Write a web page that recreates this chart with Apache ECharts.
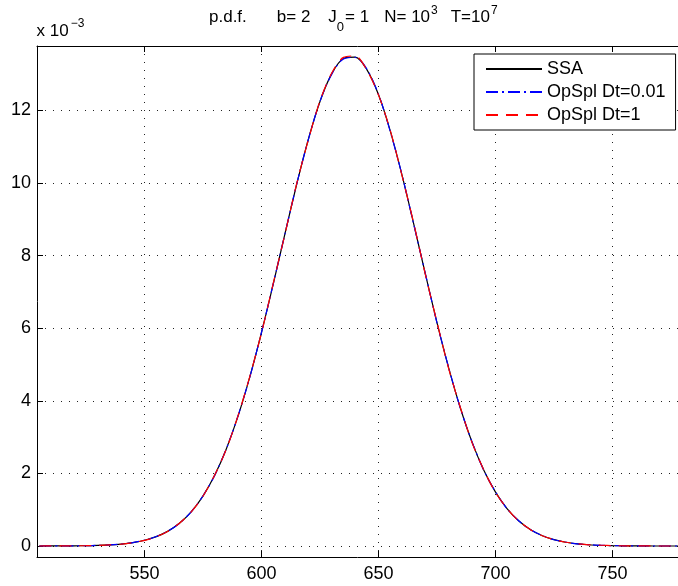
<!DOCTYPE html>
<html><head><meta charset="utf-8">
<script src="https://cdn.jsdelivr.net/npm/echarts@6/dist/echarts.min.js"></script>
<style>html,body{margin:0;padding:0;background:#fff}#c{width:678px;height:586px}</style>
</head><body><div id="c"></div>
<script>
// x positions (state count) and p.d.f. values in units of 1e-3
const xValues = [505,510,515,520,525,530,535,540,545,550,555,560,565,570,575,580,585,590,595,600,605,610,615,620,625,630,635,640,645,650,655,660,665,670,675,680,685,690,695,700,705,710,715,720,725,730,735,740,745,750,755,760,765,770,775,780];
const ssa = [0.0005,0.001,0.002,0.0045,0.009,0.017,0.030,0.054,0.094,0.158,0.258,0.41,0.632,0.947,1.381,1.954,2.688,3.592,4.667,5.889,7.221,8.605,9.962,11.206,12.251,13.013,13.43,13.469,13.125,12.43,11.435,10.224,8.88,7.497,6.148,4.899,3.795,2.855,2.087,1.483,1.024,0.687,0.448,0.284,0.174,0.104,0.061,0.034,0.019,0.010,0.005,0.002,0.001,0.0005,0.0002,0.0001];
const opSplDt001 = [0.0005,0.001,0.002,0.0046,0.009,0.017,0.031,0.055,0.095,0.160,0.260,0.412,0.630,0.950,1.385,1.950,2.690,3.600,4.660,5.895,7.230,8.600,9.970,11.200,12.260,13.000,13.420,13.460,13.140,12.440,11.420,10.230,8.870,7.500,6.140,4.910,3.790,2.860,2.080,1.490,1.020,0.690,0.446,0.286,0.173,0.105,0.060,0.035,0.019,0.010,0.005,0.002,0.001,0.0005,0.0002,0.0001];
const opSplDt1 = [0.0005,0.001,0.002,0.0044,0.009,0.016,0.030,0.053,0.093,0.157,0.256,0.408,0.635,0.945,1.378,1.960,2.680,3.600,4.680,5.880,7.240,8.590,9.980,11.190,12.270,13.030,13.460,13.500,13.110,12.420,11.450,10.210,8.900,7.480,6.160,4.880,3.810,2.840,2.095,1.475,1.030,0.684,0.450,0.282,0.176,0.103,0.062,0.033,0.020,0.010,0.005,0.002,0.001,0.0005,0.0002,0.0001];
const seriesNames = ['SSA','OpSpl Dt=0.01','OpSpl Dt=1'];
const xTicks = [550,600,650,700,750];
const yTicks = [0,2,4,6,8,10,12];

const FONT = '"Liberation Sans", Arial, Helvetica, sans-serif';
const chart = echarts.init(document.getElementById('c'), null, {renderer:'canvas'});
const pairs = arr => xValues.map((x,i)=>[x, arr[i]]);
const gridLine = {show:true, lineStyle:{color:'#222', width:1, type:[1,7]}};
const axisLine = {show:true, onZero:false, lineStyle:{color:'#000', width:1}};

const option = {
  animation:false,
  backgroundColor:'#fff',
  grid:{left:37, top:46, width:644, height:511, containLabel:false},
  xAxis:[
    {type:'value', min:504, max:778, position:'bottom', axisLine:axisLine,
     axisTick:{show:true, inside:true, length:6, customValues:xTicks, lineStyle:{color:'#000'}},
     axisLabel:{customValues:xTicks, color:'#000', fontSize:18, fontFamily:FONT, margin:8},
     splitLine:gridLine},
    {type:'value', min:504, max:778, position:'top', axisLine:axisLine,
     axisTick:{show:true, inside:true, length:6, customValues:xTicks, lineStyle:{color:'#000'}},
     axisLabel:{show:false}, splitLine:{show:false}}
  ],
  yAxis:[
    {type:'value', min:-0.303, max:13.774, position:'left', axisLine:axisLine,
     axisTick:{show:true, inside:true, length:6, customValues:yTicks, lineStyle:{color:'#000'}},
     axisLabel:{customValues:yTicks, color:'#000', fontSize:18, fontFamily:FONT, margin:6},
     splitLine:gridLine}
  ],
  legend:{orient:'vertical', left:474, top:54, padding:[6,10,6,11], itemGap:5,
    itemWidth:56, itemHeight:18, borderColor:'#000', borderWidth:1, backgroundColor:'#fff', borderRadius:0,
    itemStyle:{opacity:0, borderWidth:0},
    textStyle:{fontSize:18, fontFamily:FONT, color:'#000', lineHeight:18},
    data:seriesNames},
  graphic:[
    {type:'text', left:209, top:3, style:{
      text:'{n|p.d.f.}{b|b= 2}{j|J}{sub|0}{e|= 1}{nn|N= 10}{sup|3}{t|T=10}{sup2|7}',
      fontFamily:FONT, fill:'#000',
      rich:{
        n:{fontSize:17, lineHeight:17, fontFamily:FONT, verticalAlign:'top', padding:[5.7,0,0,0]},
        b:{fontSize:17, lineHeight:17, fontFamily:FONT, verticalAlign:'top', padding:[5.7,0,0,30]},
        j:{fontSize:17, lineHeight:17, fontFamily:FONT, verticalAlign:'top', padding:[5.7,0,0,18]},
        e:{fontSize:17, lineHeight:17, fontFamily:FONT, verticalAlign:'top', padding:[5.7,0,0,1]},
        nn:{fontSize:17, lineHeight:17, fontFamily:FONT, verticalAlign:'top', padding:[5.7,0,0,15]},
        t:{fontSize:17, lineHeight:17, fontFamily:FONT, verticalAlign:'top', padding:[5.7,0,0,13]},
        sup:{fontSize:12, lineHeight:12, fontFamily:FONT, verticalAlign:'top', padding:[1.9,0,0,1]},
        sup2:{fontSize:12, lineHeight:12, fontFamily:FONT, verticalAlign:'top', padding:[1.9,0,0,1]},
        sub:{fontSize:13, lineHeight:13, fontFamily:FONT, verticalAlign:'top', padding:[18,0,0,0]}
      }}},
    {type:'text', left:36.5, top:14, style:{
      text:'{n|x 10}{sup|−3}', fontFamily:FONT, fill:'#000',
      rich:{
        n:{fontSize:17, lineHeight:17, fontFamily:FONT, verticalAlign:'top', padding:[9.3,0,0,0]},
        sup:{fontSize:12, lineHeight:12, fontFamily:FONT, verticalAlign:'top', padding:[3.8,0,0,2]}
      }}}
  ],
  series:[
    {type:'line', name:seriesNames[0], data:pairs(ssa), symbol:'none', showSymbol:false, smooth:0.3,
     lineStyle:{color:'#000', width:1.2}, itemStyle:{color:'#000'}, z:2},
    {type:'line', name:seriesNames[1], data:pairs(opSplDt001), symbol:'none', showSymbol:false, smooth:0.3,
     lineStyle:{color:'#0000ff', width:1.2, type:[12,4,2,4]}, itemStyle:{color:'#0000ff'}, z:3},
    {type:'line', name:seriesNames[2], data:pairs(opSplDt1), symbol:'none', showSymbol:false, smooth:0.3,
     lineStyle:{color:'#ff0000', width:1.2, type:[12,8]}, itemStyle:{color:'#ff0000'}, z:4}
  ]
};
chart.setOption(option);
</script></body></html>
